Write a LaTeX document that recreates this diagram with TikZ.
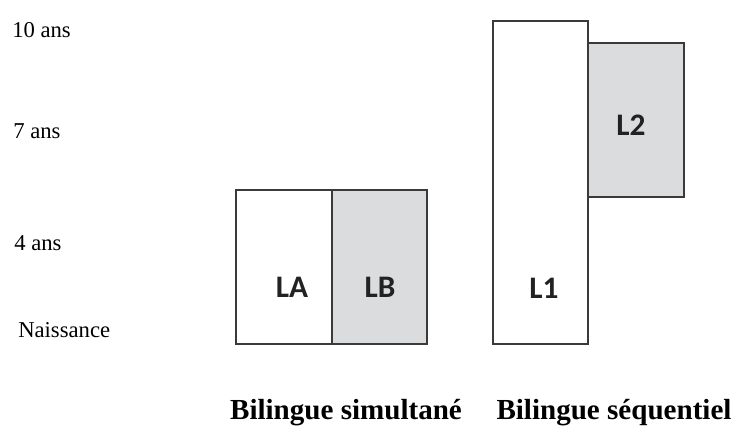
\documentclass[tikz,border=0pt]{standalone}
\usepackage{fontspec}
\setmainfont{Liberation Serif}
\newfontfamily\boxfont{Carlito}
\definecolor{boxline}{HTML}{3A3A3A}
\definecolor{boxgray}{HTML}{DADCDD}
\definecolor{labeltext}{HTML}{222222}
\tikzset{
  agebox/.style={draw=boxline, line width=1.6pt, line join=miter},
  agelabel/.style={anchor=base west, inner sep=0pt, font=\fontsize{17}{20}\selectfont},
  langlabel/.style={anchor=base, inner sep=0pt, text=labeltext, font=\boxfont\bfseries\fontsize{23.5}{28}\selectfont},
  grouplabel/.style={anchor=base, inner sep=0pt, font=\bfseries\fontsize{21.8}{26}\selectfont},
}
\begin{document}
\begin{tikzpicture}[x=0.75pt, y=-0.75pt]
  \useasboundingbox (0,0) rectangle (736,426);

  % age axis
  \node[agelabel] (a10) at (12,37) {10 ans};
  \node[agelabel] (a7) at (13,138) {7 ans};
  \node[agelabel] (a4) at (14,250) {4 ans};
  \node[agelabel] (a0) at (18,337) {Naissance};

  % simultaneous bilingual
  \draw[agebox, fill=white] (236,190) rectangle (332,344);
  \draw[agebox, fill=boxgray] (332,190) rectangle (427,344);
  \node[langlabel] (la) at (292,297) {LA};
  \node[langlabel] (lb) at (380,297) {LB};

  % sequential bilingual
  \draw[agebox, fill=boxgray] (588,43) rectangle (684,197);
  \draw[agebox, fill=white] (493,21) rectangle (588,344);
  \node[langlabel] (l1) at (544,298) {L1};
  \node[langlabel] (l2) at (631,135) {L2};

  % group captions
  \node[grouplabel] (sim) at (346,419) {Bilingue simultané};
  \node[grouplabel] (seq) at (614,419) {Bilingue séquentiel};
\end{tikzpicture}
\end{document}
